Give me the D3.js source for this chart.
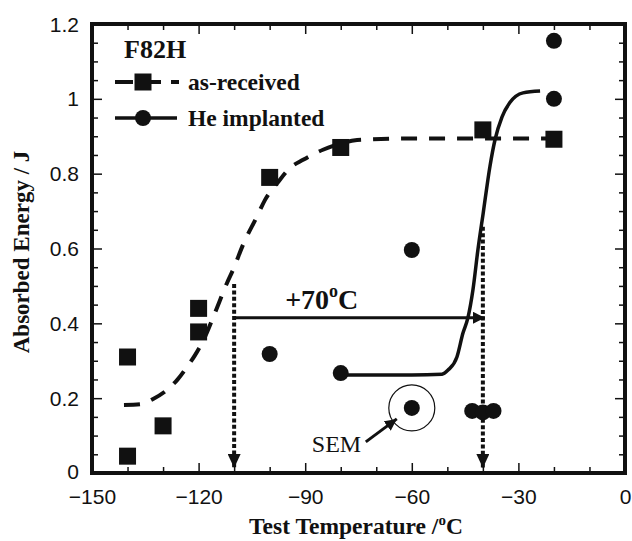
<!DOCTYPE html>
<html>
<head>
<meta charset="utf-8">
<script src="https://cdn.jsdelivr.net/npm/d3@7"></script>
<style>
  body { margin: 0; background: #fff; }
  svg { display: block; }
  .tick line { stroke: #111; stroke-width: 1.5; }
</style>
</head>
<body>
<svg id="chart" width="632" height="541"></svg>
<script>
// data
var asT = [-140, -140, -130, -120, -120, -100, -80, -40, -20];
var asE = [0.31, 0.045, 0.126, 0.44, 0.377, 0.79, 0.87, 0.917, 0.892];
var heT = [-20, -20, -60, -100, -80, -60, -43, -40, -37];
var heE = [1.155, 1.0, 0.596, 0.318, 0.267, 0.174, 0.166, 0.162, 0.166];

// fitted curves (traced)
var asFitT = [-141, -136.5, -132.8, -128.9, -126, -123.3, -121, -118.2, -115.4, -112, -110.3, -107.5, -103.6, -101.3, -97.6, -94.3, -90.6, -85, -80.2, -75.4, -60, -40, -20];
var asFitE = [0.182, 0.184, 0.198, 0.222, 0.249, 0.283, 0.315, 0.364, 0.428, 0.508, 0.543, 0.61, 0.685, 0.73, 0.778, 0.815, 0.837, 0.864, 0.88, 0.89, 0.894, 0.894, 0.894];
var heFitT = [-80, -60, -51.5, -49.8, -47.3, -45.6, -44.2, -42.8, -41.4, -39.9, -38, -36.6, -34.6, -32.4, -28.7, -23.9];
var heFitE = [0.262, 0.262, 0.264, 0.275, 0.31, 0.374, 0.415, 0.489, 0.596, 0.695, 0.82, 0.89, 0.952, 0.99, 1.016, 1.021];

var xMajor = [-150, -120, -90, -60, -30, 0];
var xLabels = ["\u2212150", "\u2212120", "\u221290", "\u221260", "\u221230", "0"];
var yMajor = [0, 0.2, 0.4, 0.6, 0.8, 1, 1.2];
var yLabels = ["0", "0.2", "0.4", "0.6", "0.8", "1", "1.2"];

var SERIF = "'Liberation Serif', 'Times New Roman', 'DejaVu Serif', serif";
var GOTHIC = "'Liberation Sans Narrow', 'Liberation Sans', Arial, sans-serif";

var svg = d3.select("#chart");
var margin = {left: 92, top: 24, right: 7, bottom: 68};
var width = 632 - margin.left - margin.right,
    height = 541 - margin.top - margin.bottom;

var g = svg.append("g").attr("transform", "translate(" + margin.left + "," + margin.top + ")");

var x = d3.scaleLinear().domain([-150, 0]).range([0, width]);
var y = d3.scaleLinear().domain([0, 1.2]).range([height, 0]);

var xMinor = d3.range(-150, 1, 10).filter(function(v) { return xMajor.indexOf(v) < 0; });
var yMinor = d3.range(0, 25).map(function(i) { return i * 0.05; })
    .filter(function(v) { return Math.abs(Math.round(v * 5) - v * 5) > 1e-6; });

function axisPair(axisFn, scale, majors, labels, minors, tr, withLabels) {
    var maj = axisFn(scale).tickValues(majors).tickSizeInner(-10).tickSizeOuter(0).tickPadding(14)
        .tickFormat(function(d, i) { return withLabels ? labels[i] : ""; });
    var mn = axisFn(scale).tickValues(minors).tickSizeInner(-6).tickSizeOuter(0).tickFormat("");
    var a = g.append("g").attr("transform", tr).call(maj);
    var b = g.append("g").attr("transform", tr).call(mn);
    a.select(".domain").remove();
    b.select(".domain").remove();
    a.selectAll("text").style("font-family", GOTHIC).style("font-size", "21px").attr("fill", "#111");
    return a;
}

var xb = axisPair(d3.axisBottom, x, xMajor, xLabels, xMinor, "translate(0," + height + ")", true);
xb.selectAll("text").attr("dy", 0).attr("y", 31);
axisPair(d3.axisTop, x, xMajor, xLabels, xMinor, "translate(0,0)", false);
var yl = axisPair(d3.axisLeft, y, yMajor, yLabels, yMinor, "translate(0,0)", true);
yl.selectAll("text").attr("x", -13).attr("dy", "0.34em");
yl.selectAll(".tick").filter(function(d) { return d === 0; }).select("text").attr("dy", "0.28em");
axisPair(d3.axisRight, y, yMajor, yLabels, yMinor, "translate(" + width + ",0)", false);

// frame
g.append("rect").attr("width", width).attr("height", height)
    .attr("fill", "none").attr("stroke", "#111").attr("stroke-width", 4);

// arrowheads
var defs = svg.append("defs");
defs.append("marker").attr("id", "tri").attr("viewBox", "0 0 10 10")
    .attr("refX", 10).attr("refY", 5).attr("markerWidth", 12).attr("markerHeight", 12)
    .attr("markerUnits", "userSpaceOnUse").attr("orient", "auto")
    .append("path").attr("d", "M0,0 L10,5 L0,10 Z").attr("fill", "#111");
defs.append("marker").attr("id", "triD").attr("viewBox", "0 0 10 10")
    .attr("refX", 10).attr("refY", 5).attr("markerWidth", 14).attr("markerHeight", 13)
    .attr("markerUnits", "userSpaceOnUse").attr("orient", "auto").attr("preserveAspectRatio", "none")
    .append("path").attr("d", "M0,0 L10,5 L0,10 Z").attr("fill", "#111");

// fitted curves
var line = d3.line().curve(d3.curveMonotoneX)
    .x(function(d) { return x(d[0]); }).y(function(d) { return y(d[1]); });

g.append("path").datum(d3.zip(asFitT, asFitE)).attr("d", line)
    .attr("fill", "none").attr("stroke", "#111").attr("stroke-width", 4)
    .attr("stroke-dasharray", "16,12");
g.append("path").datum(d3.zip(heFitT, heFitE)).attr("d", line)
    .attr("fill", "none").attr("stroke", "#111").attr("stroke-width", 3.5);

// dotted down arrows
var downArrows = [[-110, 0.505], [-40, 0.658]];
g.selectAll(".down").data(downArrows).enter().append("line")
    .attr("x1", function(d) { return x(d[0]); }).attr("x2", function(d) { return x(d[0]); })
    .attr("y1", function(d) { return y(d[1]); }).attr("y2", y(0) - 5)
    .attr("stroke", "#111").attr("stroke-width", 4).attr("stroke-dasharray", "4,2.4")
    .attr("marker-end", "url(#triD)");

// +70 shift arrow
g.append("line").attr("x1", x(-110)).attr("x2", x(-40) + 2)
    .attr("y1", y(0.415)).attr("y2", y(0.415))
    .attr("stroke", "#111").attr("stroke-width", 3).attr("marker-end", "url(#tri)");

function serifText(sel, size, bold) {
    return sel.append("text").style("font-family", SERIF).style("font-size", size + "px")
        .style("font-weight", bold ? "bold" : "normal").attr("fill", "#111");
}

var t70 = serifText(g, 28, true).attr("x", x(-110) + 51).attr("y", y(0.415) - 9);
t70.append("tspan").text("+70");
t70.append("tspan").style("font-size", "18px").attr("dy", -12).text("o");
t70.append("tspan").attr("dy", 12).text("C");

// data points
g.selectAll(".sq").data(d3.zip(asT, asE)).enter().append("rect")
    .attr("x", function(d) { return x(d[0]) - 8.5; }).attr("y", function(d) { return y(d[1]) - 8.5; })
    .attr("width", 17).attr("height", 17).attr("fill", "#111");
g.selectAll(".ci").data(d3.zip(heT, heE)).enter().append("circle")
    .attr("cx", function(d) { return x(d[0]); }).attr("cy", function(d) { return y(d[1]); })
    .attr("r", 8).attr("fill", "#111");

// SEM annotation
g.append("circle").attr("cx", x(-60)).attr("cy", y(0.174)).attr("r", 23)
    .attr("fill", "none").attr("stroke", "#111").attr("stroke-width", 1.2);
g.append("line").attr("x1", x(-60) - 46).attr("y1", y(0.174) + 34)
    .attr("x2", x(-60) - 15).attr("y2", y(0.174) + 11)
    .attr("stroke", "#111").attr("stroke-width", 3).attr("marker-end", "url(#tri)");
serifText(g, 24, false).attr("x", x(-60) - 100).attr("y", y(0.174) + 44).text("SEM");

// legend
var lg = g.append("g").attr("transform", "translate(" + (123 - margin.left) + "," + (58 - margin.top) + ")");
serifText(lg, 26, true).attr("x", 1).text("F82H");
lg.append("line").attr("x1", -8).attr("x2", 56).attr("y1", 24).attr("y2", 24)
    .attr("stroke", "#111").attr("stroke-width", 4).attr("stroke-dasharray", "18,10");
lg.append("rect").attr("x", 11.5).attr("y", 15.5).attr("width", 17).attr("height", 17).attr("fill", "#111");
serifText(lg, 23.5, true).attr("x", 65).attr("y", 32).text("as-received");
lg.append("line").attr("x1", -8).attr("x2", 54).attr("y1", 60).attr("y2", 60)
    .attr("stroke", "#111").attr("stroke-width", 3.5);
lg.append("circle").attr("cx", 20).attr("cy", 60).attr("r", 8).attr("fill", "#111");
serifText(lg, 23.5, true).attr("x", 65).attr("y", 68).text("He implanted");

// axis titles
var xt = serifText(svg, 23.5, true).attr("x", 356).attr("y", 534)
    .attr("text-anchor", "middle");
xt.append("tspan").text("Test Temperature /");
xt.append("tspan").style("font-size", "15px").attr("dy", -9).text("o");
xt.append("tspan").attr("dy", 9).text("C");

serifText(svg, 23, true)
    .attr("transform", "translate(29,252) rotate(-90)")
    .attr("text-anchor", "middle")
    .text("Absorbed Energy / J");
</script>
</body>
</html>
